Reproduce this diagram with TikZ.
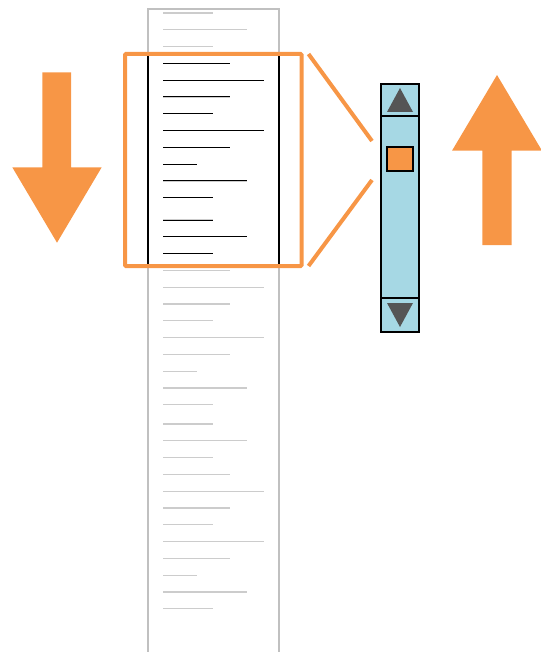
\documentclass[tikz,border=0pt]{standalone}
\definecolor{hiorange}{RGB}{247,150,70}
\definecolor{barblue}{RGB}{166,216,228}
\definecolor{pagegray}{RGB}{192,192,192}
\definecolor{linegray}{RGB}{204,204,204}
\definecolor{arrowgray}{RGB}{85,85,85}
\tikzset{
  zoomline/.style={hiorange,line width=4pt},
  barbox/.style={draw=black,fill=barblue,line width=2pt,inner sep=0pt,outer sep=0pt},
}

\begin{document}
\begin{tikzpicture}[x=1pt,y=-1pt]
    \useasboundingbox (0,0) rectangle (540,652);
    \def\lx{163}
    \def\lstep{16.8}
    % text lines of the page, three blocks of twelve
    \def\doclines{%
      \foreach \by in {13,220,424} {
        \foreach \i/\ex in {0/213,1/247,2/213,3/230,4/264,5/230,6/213,7/264,8/230,9/197,10/247,11/213} {
          \draw (\lx,\by+\i*\lstep) -- (\ex,\by+\i*\lstep);
        }
      }}
    % page column
    \draw[pagegray,line width=2pt] (148,652) -- (148,9) -- (279,9) -- (279,652);
    \begin{scope}[linegray,line width=1.2pt]
      \doclines
    \end{scope}
    % visible part of the page
    \begin{scope}
      \clip (148,54) rectangle (279,266);
      \begin{scope}[black,line width=1pt]
        \doclines
      \end{scope}
    \end{scope}
    \draw[line width=2pt] (148,54) -- (148,266) (279,54) -- (279,266);
    \node[draw=hiorange,line width=4pt,rounded corners=1pt,inner sep=0pt,outer sep=0pt,
          minimum width=176.5pt,minimum height=212pt] (view) at (213.25,160) {};
    % scrollbar
    \node[barbox,minimum width=38pt,minimum height=248pt] (bar) at (400,208) {};
    \node[barbox,minimum width=38pt,minimum height=32.5pt] (up) at (400,100.25) {};
    \node[barbox,minimum width=38pt,minimum height=34pt] (down) at (400,315) {};
    \fill[arrowgray] (387,112) -- (400,88) -- (413,112) -- cycle;
    \fill[arrowgray] (387,303) -- (400,327) -- (413,303) -- cycle;
    \node[draw=black,fill=hiorange,line width=2pt,inner sep=0pt,
          minimum width=26pt,minimum height=24pt] (thumb) at (399.5,159) {};
    % zoom lines
    \coordinate (zt) at (372,141);
    \coordinate (zb) at (372,180);
    \draw[zoomline] ([xshift=7pt]view.north east) -- (zt);
    \draw[zoomline] ([xshift=7pt]view.south east) -- (zb);
    % big arrows
    \fill[hiorange] (42.3,72.3) -- (71,72.3) -- (71,167.3) -- (101.7,167.3) -- (57,242.7)
      -- (12.3,167.3) -- (42.3,167.3) -- cycle;
    \fill[hiorange] (482.3,245) -- (511.7,245) -- (511.7,150.7) -- (542,150.7) -- (497,75)
      -- (452,150.7) -- (482.3,150.7) -- cycle;
\end{tikzpicture}
\end{document}
